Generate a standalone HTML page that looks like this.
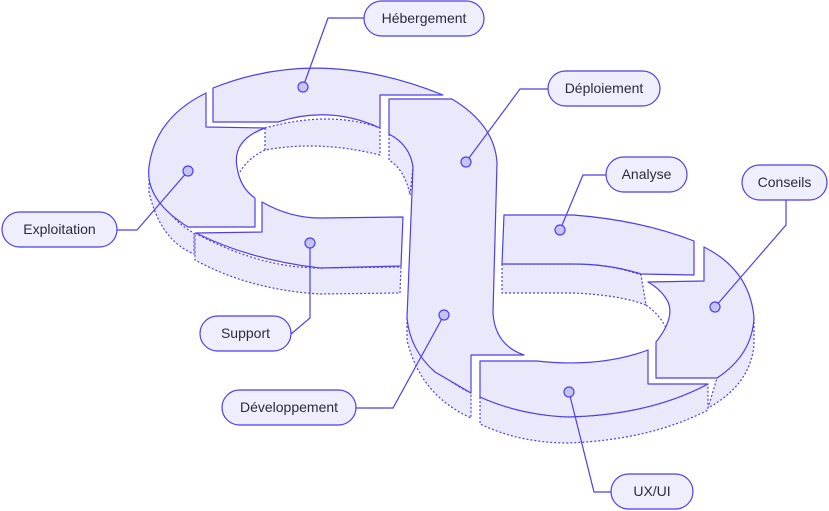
<!DOCTYPE html>
<html><head><meta charset="utf-8"><style>
html,body{margin:0;padding:0;background:#fff;}
svg{display:block;}
text{font-family:"Liberation Sans",sans-serif;font-size:14px;fill:#2b2b3d;}
</style></head><body>
<svg width="829" height="511" viewBox="0 0 829 511" xmlns="http://www.w3.org/2000/svg">
<g fill="#e9e9fb" stroke="#4f3fe8" stroke-width="1.2" stroke-linejoin="round">
<g stroke-dasharray="2,2">
<path d="M149,167 L149,192 Q160,240 194,254 L194,233 Q160,215 149,167 Z"/>
<path d="M195,233 Q260,268 320,268 L401,267 L400,293 L320,294 Q250,290 195,260 Z"/>
<path d="M265,128 L265,150 Q320,140 380,155 L380,128 Q330,110 265,128 Z"/>
<path d="M389,134 L389,160 Q405,170 410,195 L413,167 Q410,145 389,134 Z"/>
<path d="M407,318 L407,340 Q420,395 471,418 L471,393 Q425,372 407,318 Z"/>
<path d="M480,397 L480,424 Q520,443 568,443 Q650,440 708,410 L708,384 Q650,415 568,417 Q520,415 480,397 Z"/>
<path d="M754,318 L754,345 Q750,385 708,408 L717,378 Q750,355 754,318 Z"/>
<path d="M502,264 L502,293 L573,293 Q620,295 646,305 L641,275 Q610,264 573,264 Z"/>
<path d="M265,150 Q248,158 240,172" fill="none"/>
<path d="M646,305 Q660,315 666,328" fill="none"/>
</g>
<path d="M213,88 Q320,45 443,95 L380,95 L380,128 Q330,105 278,122 L213,122 Z"/>
<path d="M206,93 L206,127 L265,128 Q232,140 237,167 Q240,188 255,198 L255,227 L188,227 Q145,200 149,167 Q155,118 206,93 Z"/>
<path d="M262,202 Q290,218 320,218 L403,217 L401,266 L320,268 Q250,260 196,233 L262,232 Z"/>
<path d="M389,99 L452,99 Q495,125 497,163 L493,313 Q495,345 524,355 L471,355 L471,393 Q435,372 435,372 Q410,350 407,318 L413,167 Q410,145 389,134 Z"/>
<path d="M480,361 L537,361 Q600,368 648,350 L648,384 L708,384 Q650,415 568,417 Q520,415 480,397 Z"/>
<path d="M704,247 Q750,270 754,318 Q752,355 717,378 L656,378 L656,342 Q675,318 668,302 Q662,290 648,282 L704,281 Z"/>
<path d="M504,215 L573,215 Q640,220 694,241 L694,275 L641,274 Q610,264 573,264 L502,264 Z"/>
</g>
<g fill="none" stroke="#4f3fe8" stroke-width="1.2">
<polyline points="303,87 328,18 364,18"/>
<polyline points="466,162 520,89 548,89"/>
<polyline points="560,230 583,175 606,175"/>
<polyline points="715,307 786,225 786,200"/>
<polyline points="188,171 137,230 117,230"/>
<polyline points="310,243 310,318 291,334"/>
<polyline points="444,315 393,408 356,408"/>
<polyline points="569,392 594,492 611,492"/>
</g>
<g fill="#c6c4f7" stroke="#4f3fe8" stroke-width="1.2">
<circle cx="303" cy="87" r="5"/><circle cx="466" cy="162" r="5"/>
<circle cx="560" cy="230" r="5"/><circle cx="715" cy="307" r="5"/>
<circle cx="188" cy="171" r="5"/><circle cx="310" cy="243" r="5"/>
<circle cx="444" cy="315" r="5"/><circle cx="569" cy="392" r="5"/>
</g>
<g fill="#eeeefd" stroke="#4f3fe8" stroke-width="1.2">
<rect x="364" y="1" width="120" height="35" rx="17.5"/>
<rect x="548" y="71" width="112" height="35" rx="17.5"/>
<rect x="606" y="157" width="81" height="35" rx="17.5"/>
<rect x="742" y="165" width="85" height="35" rx="17.5"/>
<rect x="2" y="212" width="115" height="35" rx="17.5"/>
<rect x="200" y="316" width="91" height="35" rx="17.5"/>
<rect x="222" y="390" width="134" height="35" rx="17.5"/>
<rect x="611" y="474" width="82" height="35" rx="17.5"/>
</g>
<g text-anchor="middle">
<text x="424" y="23">Hébergement</text>
<text x="604" y="93">Déploiement</text>
<text x="646.5" y="179">Analyse</text>
<text x="784.5" y="187">Conseils</text>
<text x="59.5" y="234">Exploitation</text>
<text x="245.5" y="338">Support</text>
<text x="289" y="412">Développement</text>
<text x="652" y="496">UX/UI</text>
</g>
</svg>
</body></html>
